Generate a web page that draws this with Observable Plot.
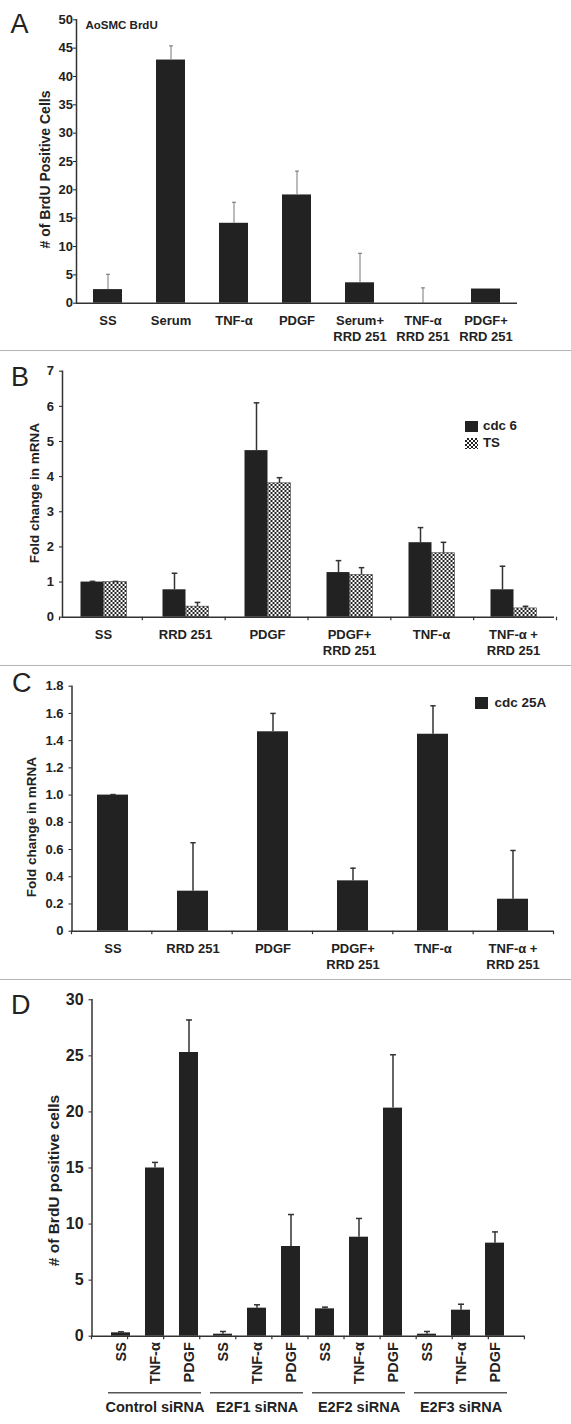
<!DOCTYPE html>
<html><head><meta charset="utf-8">
<script src="https://cdn.jsdelivr.net/npm/d3@7"></script>
<script src="https://cdn.jsdelivr.net/npm/@observablehq/plot@0.6"></script>
<style>
body{margin:0;background:#fff;}
#root{position:relative;width:571px;height:1424px;overflow:hidden;font-family:"Liberation Sans",Arial,sans-serif;}
.letter{position:absolute;font-size:27px;line-height:27px;font-weight:normal;color:#222;}
.sep{position:absolute;left:0;width:571px;height:0;border-top:1.5px solid #b4b4b4;}
.leg{position:absolute;font-weight:bold;font-size:13.3px;color:#222;line-height:12px;white-space:nowrap;}
.sw{position:absolute;}
.checker{background-color:#fff;background-image:conic-gradient(#222 25%,#fff 0 50%,#222 0 75%,#fff 0);background-size:4px 4px;}
</style></head><body><div id="root"></div>
<script>
// ---------- DATA ----------
// Panel A
const catsA = ["SS", "Serum", "TNF-α", "PDGF", "Serum+\nRRD 251", "TNF-α\nRRD 251", "PDGF+\nRRD 251"];
const valuesA = [2.4, 42.9, 14.1, 19.1, 3.6, 0, 2.5];
const errA = [2.7, 2.5, 3.7, 4.2, 5.2, 2.7, 0];
const yTicksA = [0, 5, 10, 15, 20, 25, 30, 35, 40, 45, 50];
const titleA = "AoSMC BrdU";
const yLabelA = "# of BrdU Positive Cells";
// Panel B
const catsB = ["SS", "RRD 251", "PDGF", "PDGF+\nRRD 251", "TNF-α", "TNF-α +\nRRD 251"];
const seriesB = ["cdc 6", "TS"];
const cdc6B = [1.0, 0.78, 4.74, 1.27, 2.12, 0.78];
const cdc6ErrB = [0.02, 0.47, 1.36, 0.34, 0.43, 0.67];
const tsB = [1.0, 0.30, 3.81, 1.20, 1.82, 0.25];
const tsErrB = [0.02, 0.12, 0.16, 0.21, 0.31, 0.06];
const yTicksB = [0, 1, 2, 3, 4, 5, 6, 7];
const yLabelB = "Fold change in mRNA";
// Panel C
const catsC = ["SS", "RRD 251", "PDGF", "PDGF+\nRRD 251", "TNF-α", "TNF-α +\nRRD 251"];
const seriesC = ["cdc 25A"];
const cdc25aC = [1.0, 0.294, 1.465, 0.37, 1.447, 0.235];
const cdc25aErrC = [0.004, 0.356, 0.135, 0.093, 0.209, 0.358];
const yTicksC = [0, 0.2, 0.4, 0.6, 0.8, 1.0, 1.2, 1.4, 1.6, 1.8];
const yLabelC = "Fold change in mRNA";
// Panel D
const groupsD = ["Control siRNA", "E2F1 siRNA", "E2F2 siRNA", "E2F3 siRNA"];
const treatD = ["SS", "TNF-α", "PDGF"];
const valuesD = [[0.3, 15.0, 25.3], [0.18, 2.5, 8.0], [2.44, 8.83, 20.34], [0.18, 2.32, 8.3]];
const errD = [[0.09, 0.5, 2.9], [0.24, 0.3, 2.85], [0.15, 1.67, 4.76], [0.24, 0.53, 1.0]];
const yTicksD = [0, 5, 10, 15, 20, 25, 30];
const yLabelD = "# of BrdU positive cells";
const panelLetters = ["A", "B", "C", "D"];

// ---------- HELPERS ----------
const root = document.getElementById("root");
const font = '"Liberation Sans", Arial, sans-serif';
const ink = "#222";
const capSymbol = {draw(ctx, size) { const r = Math.sqrt(size / Math.PI); ctx.moveTo(-r, 0); ctx.lineTo(r, 0); }};
function place(el, top) { el.style.position = "absolute"; el.style.left = "0px"; el.style.top = top + "px"; root.appendChild(el); }
function div(cls, css, text) { const d = document.createElement("div"); d.className = cls; Object.assign(d.style, css); if (text) d.textContent = text; root.appendChild(d); return d; }
function boundaryTicks(plot, scaleName, n, len) {
  const s = plot.scale(scaleName), y = plot.scale("y");
  const [r0, r1] = s.range, y0 = y.apply(0);
  const g = d3.select(plot).append("g").attr("stroke", "#333").attr("stroke-width", 1.2);
  for (let k = 0; k <= n; k++) {
    const xx = r0 + k * (r1 - r0) / n;
    g.append("line").attr("x1", xx).attr("x2", xx).attr("y1", y0).attr("y2", y0 + len);
  }
}
const baseStyle = {fontFamily: font, fontWeight: "bold", color: ink, background: "transparent", overflow: "visible"};
const intFmt = d => String(d);

// ---------- PANEL A ----------
const rowsA = catsA.map((c, i) => ({cat: c, value: valuesA[i], err: errA[i]}));
const errRowsA = rowsA.filter(d => d.err > 0);
const plotA = Plot.plot({
  width: 571, height: 348, marginTop: 19.3, marginBottom: 45.3, marginLeft: 76, marginRight: 54,
  style: baseStyle,
  x: {domain: catsA, paddingInner: 0.54, paddingOuter: 0.27},
  y: {domain: [0, 50]},
  marks: [
    Plot.barY(rowsA, {x: "cat", y: "value", fill: ink}),
    Plot.ruleX(errRowsA, {x: "cat", y1: "value", y2: d => d.value + d.err, stroke: "#777", strokeWidth: 1}),
    Plot.dot(errRowsA, {x: "cat", y: d => d.value + d.err, symbol: capSymbol, r: 2, stroke: "#777", fill: "none", strokeWidth: 1}),
    Plot.frame({anchor: "left", stroke: "#333", strokeWidth: 1.5}),
    Plot.ruleY([0], {stroke: "#333", strokeWidth: 1.5}),
    Plot.axisY({ticks: yTicksA, tickFormat: intFmt, tickSize: 3, tickPadding: 0.5, fontSize: 13, label: null}),
    Plot.axisX({tickSize: 0, tickPadding: 10, fontSize: 13, lineHeight: 1.23, label: null}),
    Plot.text([titleA], {text: d => d, frameAnchor: "top-left", textAnchor: "start", lineAnchor: "middle", dx: 9, dy: 6, fontSize: 11.5}),
    Plot.text([yLabelA], {text: d => d, frameAnchor: "left", rotate: -90, textAnchor: "middle", lineAnchor: "middle", dx: -30.5, dy: 8, fontSize: 14})
  ]
});
place(plotA, 0);

// ---------- PANEL B ----------
const rowsB = catsB.flatMap((c, i) => [
  {cat: c, series: seriesB[0], value: cdc6B[i], err: cdc6ErrB[i]},
  {cat: c, series: seriesB[1], value: tsB[i], err: tsErrB[i]}
]);
const plotB = Plot.plot({
  width: 571, height: 312, marginTop: 18.7, marginBottom: 47.3, marginLeft: 59.5, marginRight: 14.5,
  style: baseStyle,
  fx: {domain: catsB, padding: 0},
  x: {domain: seriesB, paddingInner: 0, paddingOuter: 0.76, axis: null},
  y: {domain: [0, 7]},
  marks: [
    Plot.barY(rowsB.filter(d => d.series === seriesB[0]), {fx: "cat", x: "series", y: "value", fill: ink}),
    Plot.barY(rowsB.filter(d => d.series === seriesB[1]), {fx: "cat", x: "series", y: "value", fill: "url(#checkerB)", stroke: "#444", strokeWidth: 0.6}),
    Plot.ruleX(rowsB, {fx: "cat", x: "series", y1: "value", y2: d => d.value + d.err, stroke: "#333", strokeWidth: 1.5}),
    Plot.dot(rowsB, {fx: "cat", x: "series", y: d => d.value + d.err, symbol: capSymbol, r: 2.8, stroke: "#333", fill: "none", strokeWidth: 1.5}),
    Plot.ruleY([0], {stroke: "#333", strokeWidth: 1.5}),
    Plot.frame({anchor: "left", facetAnchor: "left", stroke: "#333", strokeWidth: 1.5}),
    Plot.axisY({ticks: yTicksB, tickFormat: intFmt, tickSize: 3, tickPadding: 5.5, fontSize: 13, label: null}),
    Plot.axisFx({anchor: "bottom", tickSize: 0, tickPadding: 10, fontSize: 13, lineHeight: 1.23, label: null}),
    Plot.text([yLabelB], {text: d => d, frameAnchor: "left", rotate: -90, textAnchor: "middle", lineAnchor: "middle", dx: -27.5, dy: -1, fontSize: 13.5, facetAnchor: "left"})
  ]
});
{
  const defs = d3.select(plotB).insert("defs", ":first-child");
  const p = defs.append("pattern").attr("id", "checkerB").attr("width", 4).attr("height", 4).attr("patternUnits", "userSpaceOnUse");
  p.append("rect").attr("width", 4).attr("height", 4).attr("fill", "#fff");
  p.append("rect").attr("width", 2).attr("height", 2).attr("fill", ink);
  p.append("rect").attr("x", 2).attr("y", 2).attr("width", 2).attr("height", 2).attr("fill", ink);
}
boundaryTicks(plotB, "fx", catsB.length, 3.5);
place(plotB, 352);

// ---------- PANEL C ----------
const rowsC = catsC.map((c, i) => ({cat: c, value: cdc25aC[i], err: cdc25aErrC[i]}));
const plotC = Plot.plot({
  width: 571, height: 311, marginTop: 18.7, marginBottom: 47.3, marginLeft: 71.5, marginRight: 17.5,
  style: baseStyle,
  x: {domain: catsC, paddingInner: 0.61, paddingOuter: 0.305},
  y: {domain: [0, 1.8]},
  marks: [
    Plot.barY(rowsC, {x: "cat", y: "value", fill: ink}),
    Plot.ruleX(rowsC, {x: "cat", y1: "value", y2: d => d.value + d.err, stroke: "#333", strokeWidth: 1.5}),
    Plot.dot(rowsC, {x: "cat", y: d => d.value + d.err, symbol: capSymbol, r: 2.7, stroke: "#333", fill: "none", strokeWidth: 1.5}),
    Plot.frame({anchor: "left", stroke: "#333", strokeWidth: 1.5}),
    Plot.ruleY([0], {stroke: "#333", strokeWidth: 1.5}),
    Plot.axisY({ticks: yTicksC, tickFormat: d => d === 0 ? "0" : d.toFixed(1), tickSize: 3, tickPadding: 5.4, fontSize: 13, label: null}),
    Plot.axisX({tickSize: 0, tickPadding: 10, fontSize: 13, lineHeight: 1.23, label: null}),
    Plot.text([yLabelC], {text: d => d, frameAnchor: "left", rotate: -90, textAnchor: "middle", lineAnchor: "middle", dx: -40.5, dy: 18.5, fontSize: 13.5})
  ]
});
boundaryTicks(plotC, "x", catsC.length, 3.5);
place(plotC, 667);

// ---------- PANEL D ----------
const keysD = groupsD.flatMap(g => treatD.map(t => g + "|" + t));
const rowsD = groupsD.flatMap((g, gi) => treatD.map((t, ti) => ({key: g + "|" + t, group: g, value: valuesD[gi][ti], err: errD[gi][ti]})));
const groupRowsD = groupsD.map(g => ({group: g, key: g + "|" + treatD[1]}));
const plotD = Plot.plot({
  width: 571, height: 443, marginTop: 18.3, marginBottom: 88.3, marginLeft: 91.5, marginRight: 46.6,
  style: baseStyle,
  x: {domain: keysD, paddingInner: 0.442, paddingOuter: 0.466},
  y: {domain: [0, 30]},
  marks: [
    Plot.barY(rowsD, {x: "key", y: "value", fill: ink}),
    Plot.ruleX(rowsD, {x: "key", y1: "value", y2: d => d.value + d.err, stroke: "#333", strokeWidth: 1.5}),
    Plot.dot(rowsD, {x: "key", y: d => d.value + d.err, symbol: capSymbol, r: 3, stroke: "#333", fill: "none", strokeWidth: 1.5}),
    Plot.frame({anchor: "left", stroke: "#333", strokeWidth: 1.5}),
    Plot.ruleY([0], {stroke: "#333", strokeWidth: 1.5}),
    Plot.axisY({ticks: yTicksD, tickFormat: intFmt, tickSize: 3, tickPadding: 5.4, fontSize: 16, label: null}),
    Plot.axisX({tickRotate: -90, tickSize: 0, tickPadding: 6, fontSize: 14.5, tickFormat: d => d.split("|")[1], label: null}),
    Plot.text(groupRowsD, {x: "key", text: "group", frameAnchor: "bottom", lineAnchor: "middle", dy: 71, fontSize: 14.5}),
    Plot.text([yLabelD], {text: d => d, frameAnchor: "left", rotate: -90, textAnchor: "middle", lineAnchor: "middle", dx: -37.5, dy: 12.5, fontSize: 15.5})
  ]
});
{
  const x = plotD.scale("x"), y = plotD.scale("y");
  const yy = y.apply(0) + 57;
  const g = d3.select(plotD).append("g").attr("stroke", "#555").attr("stroke-width", 1.5);
  groupsD.forEach(grp => {
    const x1 = x.apply(grp + "|" + treatD[0]) - 3;
    const x2 = x.apply(grp + "|" + treatD[treatD.length - 1]) + x.bandwidth + 3;
    g.append("line").attr("x1", x1).attr("x2", x2).attr("y1", yy).attr("y2", yy);
  });
}
boundaryTicks(plotD, "x", keysD.length, 3.5);
place(plotD, 981);

// ---------- SEPARATORS, LETTERS, LEGENDS ----------
[350, 664.5, 978.5].forEach(t => div("sep", {top: t + "px"}));
const letterPos = [[10.5, 11], [11, 364], [12, 670], [11, 992]];
panelLetters.forEach((L, i) => div("letter", {left: letterPos[i][0] + "px", top: letterPos[i][1] + "px"}, L));
// legend B
div("sw", {left: "464.5px", top: "420.5px", width: "13.5px", height: "11.5px", background: ink});
div("leg", {left: "483px", top: "420px"}, seriesB[0]);
div("sw checker", {left: "464.5px", top: "437.5px", width: "13.5px", height: "11.5px"});
div("leg", {left: "483px", top: "437px"}, seriesB[1]);
// legend C
div("sw", {left: "474.5px", top: "697px", width: "13.5px", height: "12px", background: ink});
div("leg", {left: "494.5px", top: "697px", fontSize: "13.5px"}, seriesC[0]);
</script></body></html>
